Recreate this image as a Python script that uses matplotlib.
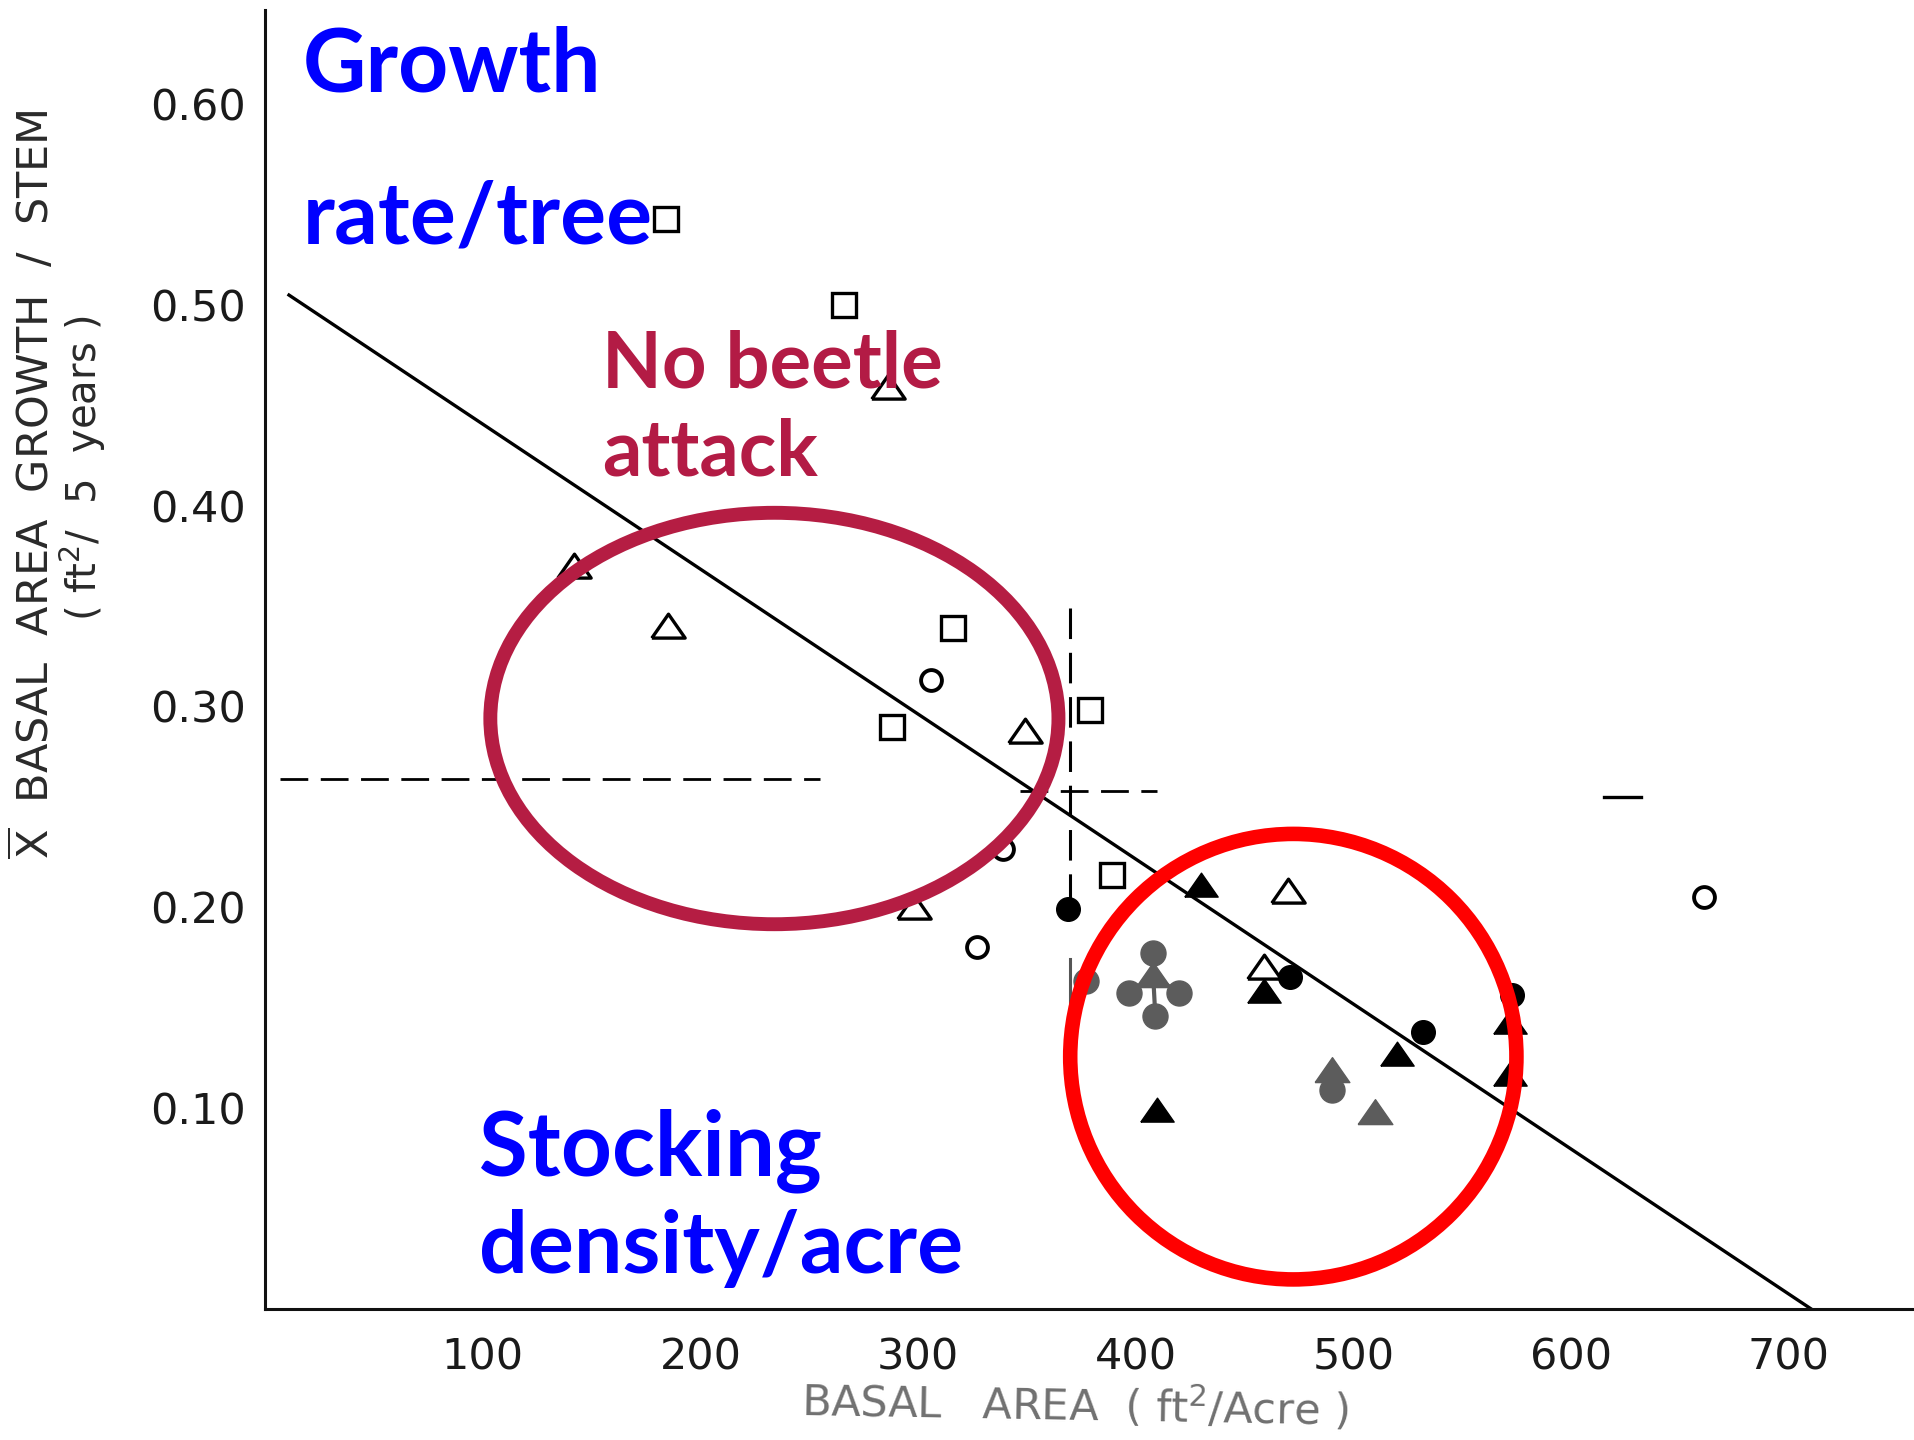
import matplotlib
matplotlib.use("Agg")
import matplotlib.pyplot as plt
from matplotlib.patches import Ellipse

# ---------------- data ----------------
x_ticks = [100, 200, 300, 400, 500, 600, 700]
y_ticks = [0.10, 0.20, 0.30, 0.40, 0.50, 0.60]
y_tick_labels = ["0.10", "0.20", "0.30", "0.40", "0.50", "0.60"]

open_sq_x = [184, 266, 316, 288, 379, 389]
open_sq_y = [0.543, 0.500, 0.339, 0.290, 0.298, 0.216]

open_tri_x = [286, 142, 185, 349, 298, 470, 459]
open_tri_y = [0.459, 0.370, 0.340, 0.288, 0.200, 0.208, 0.170]

open_circ_x = [306, 339, 327, 661]
open_circ_y = [0.313, 0.229, 0.180, 0.205]

fill_circ_x = [369, 471, 532, 573]
fill_circ_y = [0.199, 0.165, 0.138, 0.156]

fill_tri_x = [430, 459, 410, 520, 572, 572]
fill_tri_y = [0.211, 0.158, 0.099, 0.127, 0.143, 0.117]

gray_circ_x = [408, 397, 420, 409, 490, 377]
gray_circ_y = [0.177, 0.157, 0.157, 0.146, 0.109, 0.163]

gray_tri_x = [408, 490, 510]
gray_tri_y = [0.166, 0.119, 0.098]

fit_x = [11, 710]
fit_y = [0.505, 0.0]

dash_h1_x = [7, 255]
dash_h1_y = [0.264, 0.264]
dash_h2_x = [347, 410]
dash_h2_y = [0.258, 0.258]
dash_v_x = [370, 370]
dash_v_y = [0.349, 0.199]
stub_x = [370, 370]
stub_y = [0.174, 0.144]
short_dash_x = [615, 632]
short_dash_y = [0.255, 0.255]

# ---------------- figure ----------------
plt.rcParams['font.family'] = ['DejaVu Sans']
fig = plt.figure(figsize=(19.15, 14.4), dpi=100)
ax = fig.add_axes([0.1384, 0.0913, 0.8616, 0.9017])
ax.set_xlim(0, 758)
ax.set_ylim(0, 0.647)

for s in ['top', 'right']:
    ax.spines[s].set_visible(False)
for s in ['left', 'bottom']:
    ax.spines[s].set_linewidth(2.2)
    ax.spines[s].set_color('#111111')

ax.set_xticks(x_ticks)
ax.set_xticklabels([str(v) for v in x_ticks])
ax.set_yticks(y_ticks)
ax.set_yticklabels(y_tick_labels)
ax.tick_params(axis='both', length=0, labelsize=31, labelcolor='#1a1a1a')
ax.tick_params(axis='y', pad=14)
ax.tick_params(axis='x', pad=20)

# regression and dashed lines
dash = (0, (10, 4.5))
ax.plot(fit_x, fit_y, color='black', lw=2.4, zorder=2)
ax.plot(dash_h1_x, dash_h1_y, color='black', lw=2.0, ls=dash, zorder=2)
ax.plot(dash_h2_x, dash_h2_y, color='black', lw=2.0, ls=dash, zorder=2)
ax.plot(dash_v_x, dash_v_y, color='black', lw=2.2, ls=dash, zorder=2)
ax.plot(stub_x, stub_y, color='#555555', lw=2.2, zorder=2)
ax.plot(short_dash_x, short_dash_y, color='black', lw=2.4, zorder=2)

# connectors for the gray cluster
for gx, gy in zip(gray_circ_x[:4], gray_circ_y[:4]):
    ax.plot([gray_tri_x[0], gx], [gray_tri_y[0], gy], color='#5a5a5a', lw=3, zorder=3)
ax.plot([gray_tri_x[1], gray_circ_x[4]], [gray_tri_y[1], gray_circ_y[4]], color='#5a5a5a', lw=3, zorder=3)

tri = [(-1.15, -0.8), (1.15, -0.8), (0, 0.85), (-1.15, -0.8)]

ax.plot(open_sq_x, open_sq_y, ls='none', marker='s', ms=17, mfc='white', mec='black', mew=2.4, zorder=4)
ax.plot(open_tri_x, open_tri_y, ls='none', marker=tri, ms=24, mfc='white', mec='black', mew=2.4, zorder=4)
ax.plot(open_circ_x, open_circ_y, ls='none', marker='o', ms=15, mfc='white', mec='black', mew=2.8, zorder=4)
ax.plot(fill_circ_x, fill_circ_y, ls='none', marker='o', ms=17, mfc='black', mec='black', zorder=4)
ax.plot(fill_tri_x, fill_tri_y, ls='none', marker=tri, ms=24, mfc='black', mec='black', zorder=4)
ax.plot(gray_circ_x, gray_circ_y, ls='none', marker='o', ms=18, mfc='#5c5c5c', mec='#5c5c5c', zorder=4)
ax.plot(gray_tri_x, gray_tri_y, ls='none', marker=tri, ms=25, mfc='#5c5c5c', mec='#5c5c5c', zorder=4)

# highlight ellipses
ax.add_patch(Ellipse((234, 0.294), 261, 0.205, fill=False, ec='#B51D43', lw=10, zorder=6))
ax.add_patch(Ellipse((472.4, 0.1255), 205, 0.222, fill=False, ec='#FF0000', lw=10.5, zorder=6))

# axis titles
fig.text(0.0045, 0.664, r"$\overline{\mathrm{X}}$  BASAL  AREA  GROWTH  /  STEM",
         rotation=90, ha='left', va='center', fontsize=31, color='#2a2a2a')
fig.text(0.030, 0.675, r"( ft$^{2}$/  5  years )",
         rotation=90, ha='left', va='center', fontsize=29, color='#2a2a2a')
fig.text(1075 / 1915, 1 - 1406 / 1440, r"BASAL   AREA  ( ft$^{2}$/Acre )",
         rotation=-1.0, ha='center', va='center', fontsize=31, color='#707070')

# annotations
ann = dict(family=['Lato', 'DejaVu Sans'], fontweight='bold', zorder=7)
blue = '#0000FF'
crim = '#B31B45'
fig.text(303 / 1915, 1 - 92 / 1440, "Growth", fontsize=63, color=blue, va='baseline', ha='left', **ann)
fig.text(303 / 1915, 1 - 244 / 1440, "rate/tree", fontsize=62, color=blue, va='baseline', ha='left', **ann)
fig.text(602 / 1915, 1 - 388 / 1440, "No beetle", fontsize=56, color=crim, va='baseline', ha='left', **ann)
fig.text(602 / 1915, 1 - 476 / 1440, "attack", fontsize=56, color=crim, va='baseline', ha='left', **ann)
fig.text(479 / 1915, 1 - 1175 / 1440, "Stocking", fontsize=64, color=blue, va='baseline', ha='left', **ann)
fig.text(479 / 1915, 1 - 1273 / 1440, "density/acre", fontsize=62, color=blue, va='baseline', ha='left', **ann)

fig.savefig("out.png", dpi=100, facecolor='white')
